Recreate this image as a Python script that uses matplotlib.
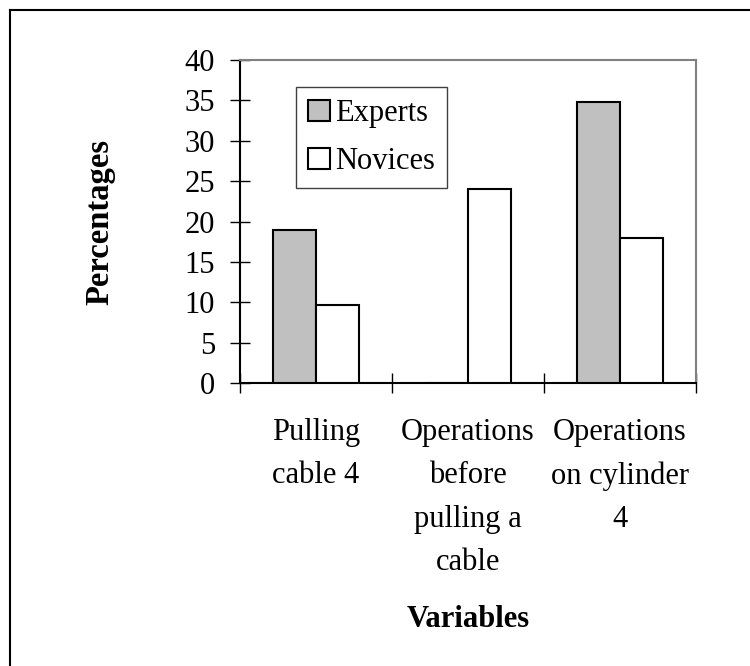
import matplotlib
matplotlib.use("Agg")
import matplotlib.pyplot as plt
from matplotlib.lines import Line2D
import numpy as np

plt.rcParams['font.family'] = ['Liberation Serif', 'DejaVu Serif']

categories = ["Pulling\ncable 4", "Operations\nbefore\npulling a\ncable", "Operations\non cylinder\n4"]
experts = [19.0, 0.0, 34.8]
novices = [9.7, 24.0, 18.0]
yticks = [0, 5, 10, 15, 20, 25, 30, 35, 40]

FS = 22
fig = plt.figure(figsize=(7.5, 6.66), dpi=100)
ax = fig.add_axes([240/750, 1-383.3/666, 456/750, 323.3/666])

x = np.arange(len(categories))
w = 0.28
ax.bar(x - w/2, experts, w, color='#C0C0C0', edgecolor='black', linewidth=1.5, label='Experts', zorder=3)
ax.bar(x + w/2, novices, w, color='white', edgecolor='black', linewidth=1.5, label='Novices', zorder=3)

ax.set_xlim(-0.5, 2.5)
ax.set_ylim(0, 40)
ax.set_yticks(yticks)
ax.set_yticklabels([str(t) for t in yticks], fontsize=FS)
ax.tick_params(axis='y', direction='inout', length=14.4, width=1, pad=10.8)

ax.set_xticks(x)
ax.set_xticklabels(categories, fontsize=FS, linespacing=1.65, va='top')
ax.tick_params(axis='x', which='major', length=0, pad=25)
ax.set_xticks([-0.5, 0.5, 1.5, 2.5], minor=True)
ax.tick_params(axis='x', which='minor', direction='inout', length=14.4, width=1)

for s in ['left', 'bottom']:
    ax.spines[s].set_color('black')
    ax.spines[s].set_linewidth(1.5)
for s in ['top', 'right']:
    ax.spines[s].set_color('#808080')
    ax.spines[s].set_linewidth(1.5)

ax.set_xlabel('Variables', fontsize=FS, fontweight='bold', labelpad=20)
ax.set_ylabel('Percentages', fontsize=23.5, fontweight='bold', labelpad=50)

leg = ax.legend(loc='upper left', bbox_to_anchor=((296-240)/456, (383.3-87)/323.3),
                borderaxespad=0, fontsize=FS, handlelength=0.7, handleheight=0.7,
                handletextpad=0.18, borderpad=0.4, labelspacing=0.62, fancybox=False,
                frameon=True, framealpha=1, edgecolor='#404040')
leg.get_frame().set_linewidth(1.0)

fig.add_artist(Line2D([10/750, 10/750], [0, 1-10/666], color='black', linewidth=1.5, transform=fig.transFigure))
fig.add_artist(Line2D([10/750, 1], [1-10/666, 1-10/666], color='black', linewidth=1.5, transform=fig.transFigure))

fig.savefig('out.png', dpi=100)
